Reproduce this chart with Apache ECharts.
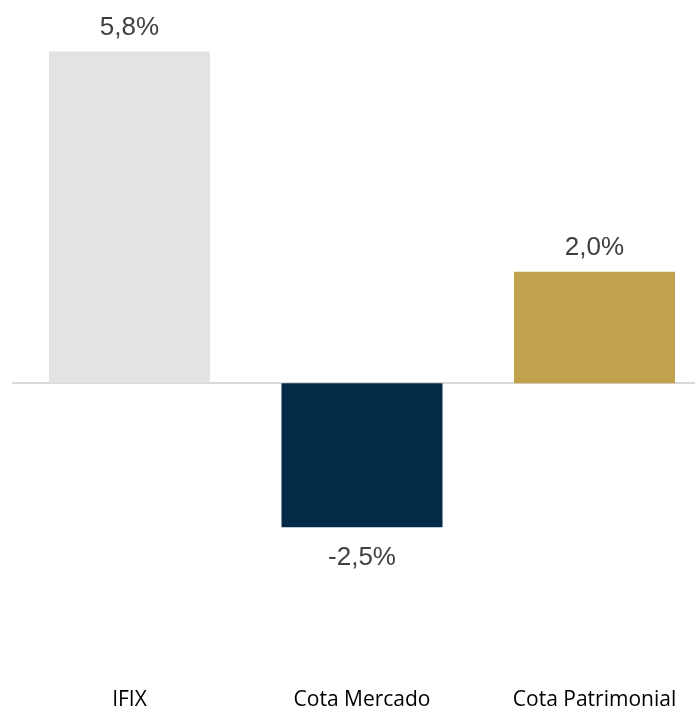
<!DOCTYPE html>
<html>
<head>
<meta charset="utf-8">
<script src="https://cdn.jsdelivr.net/npm/echarts@6/dist/echarts.min.js"></script>
<style>
html,body{margin:0;padding:0;background:#fff;}
#chart{width:695px;height:707px;}
</style>
</head>
<body>
<div id="chart"></div>
<script>
const categories = ['IFIX', 'Cota Mercado', 'Cota Patrimonial'];
const values = [5.8, -2.52, 1.95];
const barColors = ['#e3e3e3', '#032a47', '#c1a24c'];

const chart = echarts.init(document.getElementById('chart'));
const fmt = v => (Math.round(v * 10) / 10).toFixed(1).replace('.', ',') + '%';

chart.setOption({
  animation: false,
  grid: [
    { left: 129.5, top: 40, width: 465, height: 572, containLabel: false, outerBoundsMode: 'none' },
    { left: 13, top: 40, right: 0, height: 572, containLabel: false, outerBoundsMode: 'none' }
  ],
  xAxis: [{
    type: 'category',
    gridIndex: 0,
    data: categories,
    boundaryGap: false,
    position: 'bottom',
    axisLine: { show: false, onZero: false },
    axisTick: { show: false },
    splitLine: { show: false },
    axisLabel: { margin: 78, fontFamily: 'Open Sans', fontSize: 21, color: '#000000' }
  }, {
    type: 'value',
    gridIndex: 1,
    min: 0, max: 1,
    axisLine: { show: true, onZero: true, lineStyle: { color: '#d9d9d9', width: 2 } },
    axisTick: { show: false },
    axisLabel: { show: false },
    splitLine: { show: false }
  }],
  yAxis: [{
    type: 'value',
    gridIndex: 0,
    min: -4, max: 6,
    show: false,
    splitLine: { show: false }
  }, {
    type: 'value',
    gridIndex: 1,
    min: -4, max: 6,
    axisLine: { show: false },
    axisTick: { show: false },
    axisLabel: { show: false },
    splitLine: { show: false }
  }],
  series: [{
    type: 'bar',
    xAxisIndex: 0,
    yAxisIndex: 0,
    barWidth: 161,
    z: 3,
    data: values.map((v, i) => ({
      value: v,
      itemStyle: { color: barColors[i] },
      label: {
        show: true,
        position: v >= 0 ? 'top' : 'bottom',
        distance: v >= 0 ? 11 : 17,
        formatter: p => fmt(p.value),
        fontFamily: 'Liberation Sans',
        fontSize: 26,
        color: '#404040'
      }
    }))
  }]
});
</script>
</body>
</html>
